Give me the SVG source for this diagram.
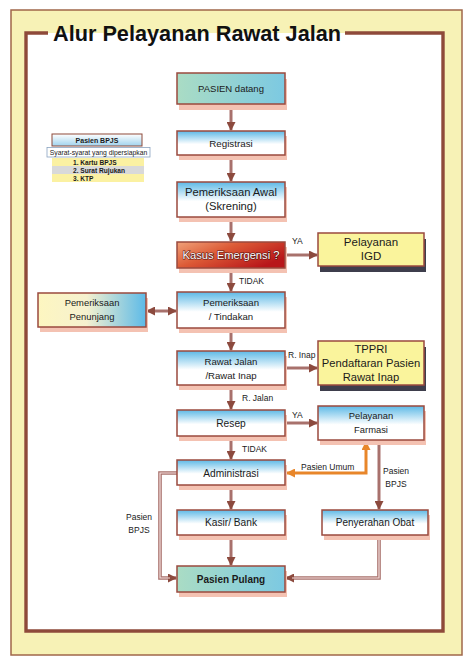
<svg xmlns="http://www.w3.org/2000/svg" width="474" height="666" viewBox="0 0 474 666">
<defs>
<linearGradient id="gBlue" x1="0" y1="0" x2="0" y2="1"><stop offset="0" stop-color="#5db9e6"/><stop offset="0.55" stop-color="#ffffff"/><stop offset="1" stop-color="#ffffff"/></linearGradient>
<linearGradient id="gTeal" x1="0" y1="0" x2="1" y2="0"><stop offset="0" stop-color="#aadcc4"/><stop offset="1" stop-color="#7cc9e2"/></linearGradient>
<linearGradient id="gRed" x1="0" y1="0" x2="1" y2="0.6"><stop offset="0" stop-color="#f0a27a"/><stop offset="0.45" stop-color="#dc5a36"/><stop offset="1" stop-color="#b8161a"/></linearGradient>
<linearGradient id="gYB" x1="0" y1="0" x2="1" y2="0"><stop offset="0" stop-color="#fdf6c0"/><stop offset="0.45" stop-color="#f6f1cf"/><stop offset="1" stop-color="#5cbae8"/></linearGradient>
<linearGradient id="gLeg" x1="0" y1="0" x2="0" y2="1"><stop offset="0" stop-color="#ffffff"/><stop offset="1" stop-color="#9fd3ee"/></linearGradient>
<marker id="ah" markerUnits="userSpaceOnUse" markerWidth="9" markerHeight="9" refX="8" refY="4.5" orient="auto-start-reverse"><path d="M0,0 L9,4.5 L0,9 z" fill="#8c4a3e"/></marker>
<marker id="aho" markerUnits="userSpaceOnUse" markerWidth="9" markerHeight="9" refX="8" refY="4.5" orient="auto-start-reverse"><path d="M0,0 L9,4.5 L0,9 z" fill="#e8862a"/></marker>
</defs>
<style>
text{font-family:"Liberation Sans",Arial,sans-serif;fill:#1a1a1a}
.t{text-anchor:middle}
.bx{stroke:#9a4a3e;stroke-width:1.5}
.sh{fill:#f4c2b2}
.shd{fill:#3e3e4c}
.c{fill:none;stroke:#a8716c;stroke-width:3}
.co{fill:none;stroke:#a8716c;stroke-width:3.6}
.ci{fill:none;stroke:#f6e0de;stroke-width:1.2}
.lb{font-size:8.5px}
</style>
<rect x="11" y="10" width="451" height="645" fill="#f7f2b6" stroke="#a0674a" stroke-width="1.5"/>
<rect x="26" y="33" width="417" height="598" fill="#ffffff"/>
<path d="M48 33 H26 V631 H443 V33 H345" fill="none" stroke="#8e4a3a" stroke-width="3.4"/>
<text x="53" y="41" style="font-size:21.7px;font-weight:bold;fill:#111">Alur Pelayanan Rawat Jalan</text>

<g id="connectors">
<path class="c" d="M231 110 V130" marker-end="url(#ah)"/>
<path class="c" d="M231 160 V181" marker-end="url(#ah)"/>
<path class="c" d="M231 222 V241" marker-end="url(#ah)"/>
<path class="c" d="M285 255 H317" marker-end="url(#ah)"/>
<path class="c" d="M231 273 V291" marker-end="url(#ah)"/>
<path class="c" d="M147 311 H176" marker-start="url(#ah)" marker-end="url(#ah)"/>
<path class="c" d="M231 333 V350" marker-end="url(#ah)"/>
<path class="c" d="M285 368 H317" marker-end="url(#ah)"/>
<path class="c" d="M231 390 V409" marker-end="url(#ah)"/>
<path class="c" d="M285 423 H317" marker-end="url(#ah)"/>
<path class="c" d="M231 441 V459" marker-end="url(#ah)"/>
<path fill="none" stroke="#e8862a" stroke-width="3" d="M366 442 V473 H287" marker-start="url(#aho)" marker-end="url(#aho)"/>
<path class="c" d="M379 445 V509" marker-end="url(#ah)"/>
<path class="c" d="M231 490 V509" marker-end="url(#ah)"/>
<path class="c" d="M231 540 V565" marker-end="url(#ah)"/>
<path class="co" d="M177 473 H160 V578 H176" marker-end="url(#ah)"/>
<path class="ci" d="M177 473 H160 V578 H170"/>
<path class="co" d="M379 540 V578 H286" marker-end="url(#ah)"/>
<path class="ci" d="M379 540 V578 H292"/>
<text class="lb" x="292" y="244">YA</text>
<text class="lb" x="239" y="284">TIDAK</text>
<text class="lb" x="288" y="358">R. Inap</text>
<text class="lb" x="242" y="401">R. Jalan</text>
<text class="lb" x="292" y="418">YA</text>
<text class="lb" x="242" y="452">TIDAK</text>
<text class="lb" x="301" y="470">Pasien Umum</text>
<text class="lb t" x="396" y="474">Pasien</text>
<text class="lb t" x="396" y="487">BPJS</text>
<text class="lb t" x="139" y="520">Pasien</text>
<text class="lb t" x="139" y="533">BPJS</text>
</g>

<g id="legend">
<rect x="52" y="134" width="90" height="12" fill="url(#gLeg)" stroke="#8e4a3a" stroke-width="1"/>
<text class="t" x="97" y="143" style="font-size:7px;font-weight:bold">Pasien BPJS</text>
<rect x="47" y="147.5" width="103" height="9.5" fill="#ffffff" stroke="#8aa4c0" stroke-width="0.8"/>
<text class="t" x="98.5" y="155" style="font-size:6.8px">Syarat-syarat yang dipersiapkan</text>
<rect x="52" y="158" width="92" height="8" fill="#fbf1a2"/>
<rect x="52" y="166" width="92" height="8" fill="#d9d9d9"/>
<rect x="52" y="174" width="92" height="8" fill="#fbf1a2"/>
<text x="73" y="164.5" style="font-size:6.6px;font-weight:bold">1. Kartu BPJS</text>
<text x="73" y="172.5" style="font-size:6.6px;font-weight:bold">2. Surat Rujukan</text>
<text x="73" y="180.5" style="font-size:6.6px;font-weight:bold">3. KTP</text>
</g>

<g id="pasien-datang">
<rect class="sh" x="179" y="79" width="108" height="31"/>
<rect class="bx" x="177" y="73" width="108" height="31" fill="url(#gTeal)"/>
<text class="t" x="231" y="92" style="font-size:9.5px">PASIEN datang</text>
</g>
<g id="registrasi">
<rect class="sh" x="179" y="136" width="108" height="24"/>
<rect class="bx" x="177" y="131" width="108" height="24" fill="url(#gBlue)"/>
<text class="t" x="231" y="146.5" style="font-size:9.8px">Registrasi</text>
</g>
<g id="pemeriksaan-awal">
<rect class="sh" x="179" y="187" width="108" height="35"/>
<rect class="bx" x="177" y="182" width="108" height="35" fill="url(#gBlue)"/>
<text class="t" x="231" y="196" style="font-size:11.2px">Pemeriksaan Awal</text>
<text class="t" x="231" y="210" style="font-size:11.2px">(Skrening)</text>
</g>
<g id="kasus-emergensi">
<rect class="sh" x="179" y="247" width="108" height="26"/>
<rect class="bx" x="177" y="242" width="108" height="26" fill="url(#gRed)"/>
<text class="t" x="231" y="259" style="font-size:11.2px;fill:#ffffff;stroke:#5a1410;stroke-width:1.2;paint-order:stroke">Kasus Emergensi ?</text>
</g>
<g id="pelayanan-igd">
<rect class="shd" x="320" y="239" width="106" height="33"/>
<rect class="bx" x="318" y="233" width="106" height="33" fill="#faf49c"/>
<text class="t" x="371" y="246" style="font-size:11.5px">Pelayanan</text>
<text class="t" x="371" y="260" style="font-size:11.5px">IGD</text>
</g>
<g id="pemeriksaan-tindakan">
<rect class="sh" x="179" y="297" width="108" height="36"/>
<rect class="bx" x="177" y="292" width="108" height="36" fill="url(#gBlue)"/>
<text class="t" x="231" y="306" style="font-size:9.6px">Pemeriksaan</text>
<text class="t" x="231" y="320" style="font-size:9.6px">/ Tindakan</text>
</g>
<g id="pemeriksaan-penunjang">
<rect class="sh" x="40" y="298" width="108" height="34"/>
<rect class="bx" x="38" y="293" width="108" height="34" fill="url(#gYB)"/>
<text class="t" x="92" y="306" style="font-size:9.4px">Pemeriksaan</text>
<text class="t" x="92" y="320" style="font-size:9.4px">Penunjang</text>
</g>
<g id="rawat-jalan-inap">
<rect class="sh" x="179" y="356" width="108" height="34"/>
<rect class="bx" x="177" y="351" width="108" height="34" fill="url(#gBlue)"/>
<text class="t" x="231" y="365" style="font-size:9.6px">Rawat Jalan</text>
<text class="t" x="231" y="379" style="font-size:9.6px">/Rawat Inap</text>
</g>
<g id="tppri">
<rect class="shd" x="320" y="347" width="106" height="44"/>
<rect class="bx" x="318" y="341" width="106" height="44" fill="#faf49c"/>
<text class="t" x="371" y="353" style="font-size:11.2px">TPPRI</text>
<text class="t" x="371" y="367" style="font-size:11.2px">Pendaftaran Pasien</text>
<text class="t" x="371" y="381" style="font-size:11.2px">Rawat Inap</text>
</g>
<g id="resep">
<rect class="sh" x="179" y="415" width="108" height="26"/>
<rect class="bx" x="177" y="410" width="108" height="26" fill="url(#gBlue)"/>
<text class="t" x="231" y="427" style="font-size:10.2px">Resep</text>
</g>
<g id="pelayanan-farmasi">
<rect class="sh" x="320" y="411" width="106" height="34"/>
<rect class="bx" x="318" y="406" width="106" height="34" fill="url(#gBlue)"/>
<text class="t" x="371" y="419" style="font-size:9.4px">Pelayanan</text>
<text class="t" x="371" y="433" style="font-size:9.4px">Farmasi</text>
</g>
<g id="administrasi">
<rect class="sh" x="179" y="465" width="108" height="25"/>
<rect class="bx" x="177" y="460" width="108" height="25" fill="url(#gBlue)"/>
<text class="t" x="231" y="476.5" style="font-size:10.2px">Administrasi</text>
</g>
<g id="kasir-bank">
<rect class="sh" x="179" y="515" width="108" height="25"/>
<rect class="bx" x="177" y="510" width="108" height="25" fill="url(#gBlue)"/>
<text class="t" x="231" y="526" style="font-size:10.2px">Kasir/ Bank</text>
</g>
<g id="penyerahan-obat">
<rect class="sh" x="324" y="515" width="106" height="25"/>
<rect class="bx" x="322" y="510" width="106" height="25" fill="url(#gBlue)"/>
<text class="t" x="375" y="525.5" style="font-size:10px">Penyerahan Obat</text>
</g>
<g id="pasien-pulang">
<rect class="sh" x="179" y="571" width="108" height="26"/>
<rect class="bx" x="177" y="566" width="108" height="26" fill="url(#gTeal)"/>
<text class="t" x="231" y="582.5" style="font-size:10px;font-weight:bold">Pasien Pulang</text>
</g>
</svg>
